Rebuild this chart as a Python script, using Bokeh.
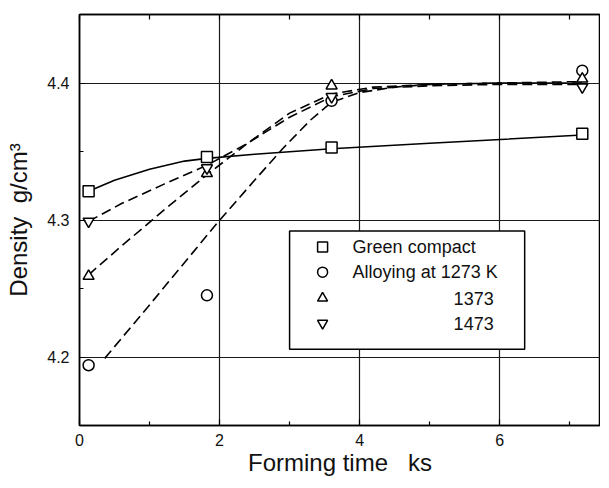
from bokeh.plotting import figure
from bokeh.models import LinearAxis, FixedTicker, BoxAnnotation, Label, Range1d
from bokeh.embed import file_html
from bokeh.resources import INLINE

# ---- data ----
time_ks = [0.13, 1.82, 3.6, 7.18]
green_compact = [4.321, 4.346, 4.353, 4.363]
alloy_1273 = [4.194, 4.245, 4.387, 4.409]
alloy_1373 = [4.259, 4.334, 4.398, 4.403]
alloy_1473 = [4.299, 4.338, 4.390, 4.397]

# fitted curves as drawn in the reference
fit_green_x = [0.13, 0.5, 1.0, 1.5, 1.82, 2.5, 3.6, 5.0, 7.18]
fit_green_y = [4.321, 4.329, 4.337, 4.343, 4.345, 4.348, 4.352, 4.356, 4.362]
fit_1273_x = [0.36, 1.0, 1.97, 2.5, 2.9, 3.3, 3.6, 4.0, 4.5, 5.0, 6.0, 7.18]
fit_1273_y = [4.199, 4.238, 4.298, 4.329, 4.352, 4.373, 4.386, 4.393, 4.397, 4.399, 4.400, 4.400]
fit_1373_x = [0.13, 0.6, 1.2, 1.82, 2.4, 3.0, 3.6, 4.2, 5.0, 6.0, 7.18]
fit_1373_y = [4.260, 4.281, 4.307, 4.333, 4.356, 4.378, 4.392, 4.397, 4.399, 4.400, 4.401]
fit_1473_x = [0.13, 0.6, 1.2, 1.82, 2.4, 3.0, 3.6, 4.2, 5.0, 6.0, 7.18]
fit_1473_y = [4.299, 4.312, 4.326, 4.340, 4.356, 4.375, 4.390, 4.396, 4.398, 4.399, 4.399]

x_major = [0, 2, 4, 6]
x_minor = [1, 3, 5, 7]
y_major = [4.2, 4.3, 4.4]
y_minor = [4.15, 4.25, 4.35, 4.45]

legend_labels = ["Green compact", "Alloying at 1273 K", "1373", "1473"]
x_title = "Forming time\u00a0\u00a0\u00a0ks"
y_title = "Density\u00a0\u00a0g/cm\u00b3"

FONT = "Liberation Sans"
X0, X1 = 0.0, 7.44
Y0, Y1 = 4.15, 4.45

p = figure(width=600, height=478, x_range=Range1d(X0, X1), y_range=Range1d(Y0, Y1),
           output_backend="svg", toolbar_location=None,
           min_border_left=79, min_border_top=14, min_border_bottom=49, min_border_right=0)
p.background_fill_color = "white"
p.border_fill_color = "white"
p.outline_line_color = "black"
p.outline_line_width = 1.5

xt = FixedTicker(ticks=x_major, minor_ticks=x_minor)
yt = FixedTicker(ticks=y_major, minor_ticks=y_minor)
p.xaxis.ticker = xt
p.yaxis.ticker = yt
p.xgrid.ticker = xt
p.ygrid.ticker = yt
for g in (p.xgrid, p.ygrid):
    g.grid_line_color = "#1a1a1a"
    g.grid_line_width = 1.2

for ax in (p.xaxis, p.yaxis):
    ax.axis_line_color = "black"
    ax.axis_line_width = 1.5
    ax.major_tick_in = 6
    ax.major_tick_out = 0
    ax.minor_tick_in = 4
    ax.minor_tick_out = 0
    ax.major_tick_line_width = 1.2
    ax.minor_tick_line_width = 1.2
    ax.major_label_text_font = FONT
    ax.major_label_text_font_size = "16px"
    ax.major_label_text_color = "#111"
    ax.axis_label_text_font = FONT
    ax.axis_label_text_font_size = "24px"
    ax.axis_label_text_font_style = "normal"
    ax.axis_label_text_color = "#111"

p.xaxis.axis_label = x_title
p.yaxis.axis_label = y_title
p.xaxis.major_label_standoff = 8
p.xaxis.axis_label_standoff = 0
p.yaxis.major_label_standoff = 10
p.yaxis.axis_label_standoff = 12

# top axis: ticks only (no labels)
top_ticker = FixedTicker(ticks=[], minor_ticks=x_major + x_minor)
top = LinearAxis(ticker=top_ticker, major_tick_in=0, major_tick_out=0,
                 minor_tick_in=5, minor_tick_out=0, axis_line_width=1.5,
                 minor_tick_line_width=1.2, major_label_standoff=0)
p.add_layout(top, "above")

# ---- curves ----
p.line(fit_green_x, fit_green_y, line_color="black", line_width=1.6)
p.line(fit_1273_x, fit_1273_y, line_color="black", line_width=1.6, line_dash="10 5")
p.line(fit_1373_x, fit_1373_y, line_color="black", line_width=1.6, line_dash="10 5")
p.line(fit_1473_x, fit_1473_y, line_color="black", line_width=1.6, line_dash="10 5")

# ---- markers ----
mk = dict(size=11, line_color="black", line_width=1.5, fill_color="white")
p.scatter(time_ks, green_compact, marker="square", **mk)
p.scatter(time_ks, alloy_1273, marker="circle", **mk)
p.scatter(time_ks, alloy_1373, marker="triangle", **mk)
p.scatter(time_ks, alloy_1473, marker="inverted_triangle", **mk)

# ---- legend (manual) ----
FR_L, FR_T = 80.0, 15.0          # frame position on page (px)
SX = 70.0                         # px per ks
SY = 410.0 / (Y1 - Y0)            # px per g/cm3

def dx(px):
    return X0 + (px - FR_L) / SX

def dy(py):
    return Y1 - (py - FR_T) / SY

p.add_layout(BoxAnnotation(left=dx(290), right=dx(525), top=dy(231), bottom=dy(349),
                           fill_color="white", fill_alpha=1.0,
                           line_color="black", line_alpha=1.0, line_width=1.5,
                           level="annotation"))
rows_py = [247, 272, 298, 323]
markers = ["square", "circle", "triangle", "inverted_triangle"]
for py, m in zip(rows_py, markers):
    r = p.scatter([dx(323)], [dy(py)], marker=m, size=10, line_color="black",
                  line_width=1.5, fill_color="white")
    r.level = "overlay"
for i, (py, lab) in enumerate(zip(rows_py, legend_labels)):
    if i < 2:
        lbl = Label(x=dx(353), y=dy(py), text=lab, text_align="left")
    else:
        lbl = Label(x=dx(494), y=dy(py), text=lab, text_align="right")
    lbl.text_baseline = "middle"
    lbl.text_font = FONT
    lbl.text_font_size = "18px"
    lbl.text_color = "#111"
    lbl.level = "overlay"
    p.add_layout(lbl)

open("out.html", "w").write(file_html(p, INLINE))
